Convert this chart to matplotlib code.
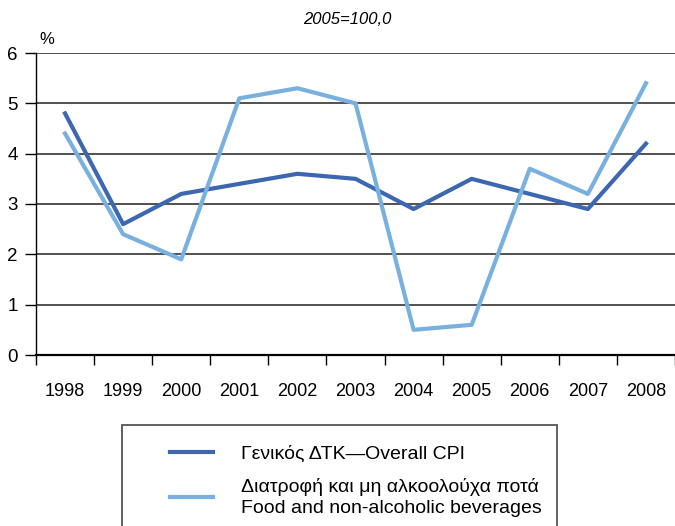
import numpy as np
import matplotlib
matplotlib.use("Agg")
import matplotlib.pyplot as plt
from matplotlib.patches import Rectangle

plt.rcParams['font.family'] = ['Liberation Sans', 'DejaVu Sans']

years = ["1998", "1999", "2000", "2001", "2002", "2003", "2004", "2005", "2006", "2007", "2008"]
cpi = [4.8, 2.6, 3.2, 3.4, 3.6, 3.5, 2.9, 3.5, 3.2, 2.9, 4.2]
food = [4.4, 2.4, 1.9, 5.1, 5.3, 5.0, 0.5, 0.6, 3.7, 3.2, 5.4]

W, H = 675, 526
fig = plt.figure(figsize=(W/100, H/100), dpi=100)
ax = fig.add_axes([36/W, 1 - 355/H, 1 - 36/W, (355 - 53)/H])

x = np.arange(len(years))
l1, = ax.plot(x, cpi, color="#3d67b1", lw=3, label="Γενικός ΔΤΚ—Overall CPI")
l2, = ax.plot(x, food, color="#78b0e0", lw=3,
              label="Διατροφή και μη αλκοολούχα ποτά\nFood and non-alcoholic beverages")

ax.set_ylim(0, 6)
ax.set_xlim(-0.5, len(years) - 0.5)
ax.set_yticks(range(7))
ax.tick_params(axis='y', labelsize=13.5, length=8, width=1, pad=5)
for yv in range(1, 7):
    ax.axhline(yv, color="#222222", lw=1.1, zorder=0)

ax.set_xticks(x)
ax.set_xticklabels(years)
ax.set_xticks(np.arange(-0.5, len(years), 1), minor=True)
ax.tick_params(axis='x', which='major', length=0, labelsize=13, pad=20)
ax.tick_params(axis='x', which='minor', length=7.5, width=1, direction='out')

for s in ['top', 'right']:
    ax.spines[s].set_visible(False)
ax.spines['left'].set_linewidth(1)
ax.spines['bottom'].set_linewidth(1.6)

fig.text(47/W, 1 - 39/H, "%", fontsize=12, ha='center', va='center')
fig.text(347/W, 1 - 19/H, "2005=100,0", fontsize=12, style='italic',
         ha='center', va='center')

# legend box (bottom edge runs off the figure)
fig.patches.append(Rectangle((122/W, -0.05), (557 - 122)/W, 0.05 + 1 - 425/H,
                             transform=fig.transFigure, fill=False,
                             edgecolor="#555555", lw=1.3))
leg = fig.legend(handles=[l1, l2], loc='upper left',
                 bbox_to_anchor=(170/W, 1 - 445/H), frameon=False,
                 fontsize=14, handlelength=2.2, handletextpad=1.45,
                 borderpad=0, borderaxespad=0, labelspacing=0.8)
leg.get_texts()[1].set_linespacing(1.3)

fig.savefig("out.png", dpi=100)
